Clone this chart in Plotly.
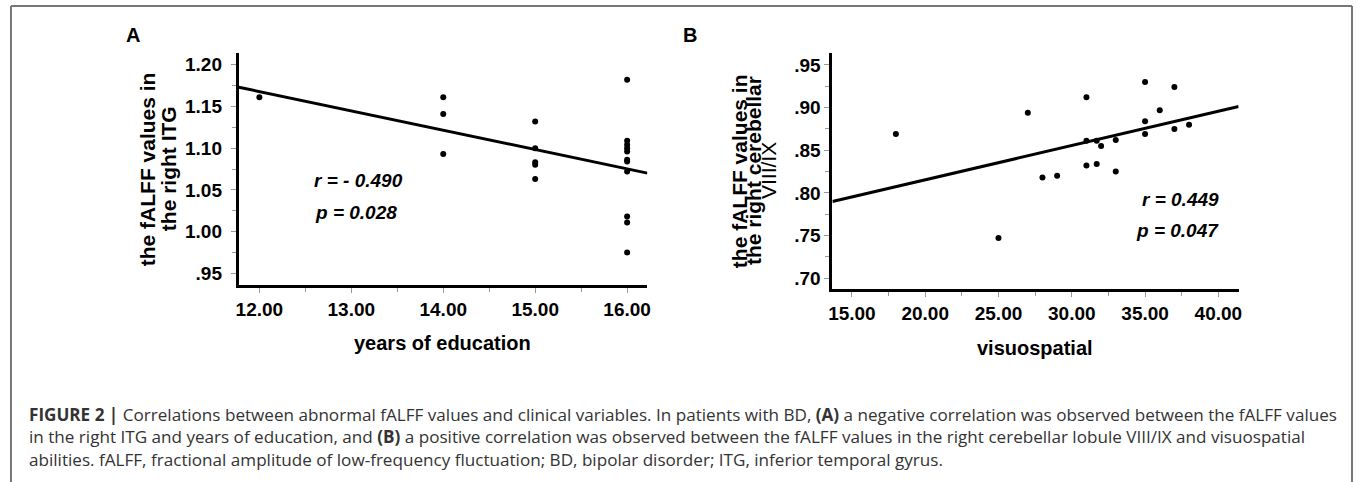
import numpy as np
import plotly.graph_objects as go

W, H = 1357, 482

# ---------------- data ----------------
# Panel A: years of education vs fALFF in right ITG
edu_years = [12, 14, 14, 14, 15, 15, 15, 15, 15,
             16, 16, 16, 16, 16, 16, 16, 16, 16, 16, 16]
itg_falff = [1.161, 1.161, 1.141, 1.093, 1.132, 1.100, 1.083, 1.080, 1.063,
             1.182, 1.109, 1.104, 1.100, 1.096, 1.086, 1.084, 1.072, 1.018, 1.011, 0.975]

# Panel B: visuospatial vs fALFF in right cerebellar VIII/IX
visuospatial = [18, 25, 27, 28, 29, 31, 31, 31, 31.7, 31.7,
                32, 33, 33, 35, 35, 35, 36, 37, 37, 38]
cereb_falff = [0.869, 0.747, 0.894, 0.818, 0.820, 0.912, 0.861, 0.832, 0.861, 0.834,
               0.855, 0.862, 0.825, 0.930, 0.884, 0.869, 0.897, 0.924, 0.875, 0.880]

# tick labels
a_xticks = [12, 13, 14, 15, 16]
a_xticktext = ["12.00", "13.00", "14.00", "15.00", "16.00"]
a_yticks = [0.95, 1.00, 1.05, 1.10, 1.15, 1.20]
a_yticktext = [".95", "1.00", "1.05", "1.10", "1.15", "1.20"]
b_xticks = [15, 20, 25, 30, 35, 40]
b_xticktext = ["15.00", "20.00", "25.00", "30.00", "35.00", "40.00"]
b_yticks = [0.70, 0.75, 0.80, 0.85, 0.90, 0.95]
b_yticktext = [".70", ".75", ".80", ".85", ".90", ".95"]

a_stats = ["r = - 0.490", "p = 0.028"]
b_stats = ["r = 0.449", "p = 0.047"]

caption_lines = [
    "<b>FIGURE 2 |</b> Correlations between abnormal fALFF values and clinical variables. In patients with BD, <b>(A)</b> a negative correlation was observed between the fALFF values",
    "in the right ITG and years of education, and <b>(B)</b> a positive correlation was observed between the fALFF values in the right cerebellar lobule VIII/IX and visuospatial",
    "abilities. fALFF, fractional amplitude of low-frequency fluctuation; BD, bipolar disorder; ITG, inferior temporal gyrus.",
]

# ---------------- layout geometry ----------------
A_XR = [11.776, 16.22]
A_YR = [0.936, 1.214]
B_XR = [13.67, 41.38]
B_YR = [0.687, 0.964]

A_XDOM = [236 / W, 646.7 / W]
A_YDOM = [1 - 285 / H, 1 - 53 / H]
B_XDOM = [832.7 / W, 1241 / W]
B_YDOM = [1 - 289.3 / H, 1 - 53 / H]

FONT = "Liberation Sans, Arial, sans-serif"
CAPFONT = "Open Sans, Liberation Sans, sans-serif"


def px(x):
    return x / W


def py(y):
    return 1 - y / H


fig = go.Figure()

# least-squares fit lines
ka, ba = np.polyfit(edu_years, itg_falff, 1)
kb, bb = np.polyfit(visuospatial, cereb_falff, 1)
ax_line = np.array(A_XR)
bx_line = np.array(B_XR)

fig.add_trace(go.Scatter(x=ax_line, y=ka * ax_line + ba, mode="lines",
                         line=dict(color="black", width=3), xaxis="x", yaxis="y",
                         showlegend=False, hoverinfo="skip"))
fig.add_trace(go.Scatter(x=edu_years, y=itg_falff, mode="markers",
                         marker=dict(color="black", size=6), xaxis="x", yaxis="y",
                         showlegend=False))
fig.add_trace(go.Scatter(x=bx_line, y=kb * bx_line + bb, mode="lines",
                         line=dict(color="black", width=3), xaxis="x2", yaxis="y2",
                         showlegend=False, hoverinfo="skip"))
fig.add_trace(go.Scatter(x=visuospatial, y=cereb_falff, mode="markers",
                         marker=dict(color="black", size=6), xaxis="x2", yaxis="y2",
                         showlegend=False))

tickfont = dict(family=FONT, size=19, color="black", weight="bold")
common = dict(showline=True, linewidth=3, linecolor="black", showgrid=False,
              zeroline=False, ticks="outside", ticklen=5, tickwidth=1,
              tickcolor="#999999", tickfont=tickfont, tickmode="array")

fig.update_layout(
    width=W, height=H,
    margin=dict(l=0, r=0, t=0, b=0),
    paper_bgcolor="white", plot_bgcolor="white",
    xaxis=dict(domain=A_XDOM, range=A_XR, anchor="y", tickvals=a_xticks,
               ticktext=a_xticktext,
               minor=dict(ticks="outside", ticklen=4, tickcolor="#999999", dtick=0.5, tick0=12),
               **common),
    yaxis=dict(domain=A_YDOM, range=A_YR, anchor="x", tickvals=a_yticks,
               ticktext=a_yticktext, ticklabelstandoff=5,
               minor=dict(ticks="outside", ticklen=4, tickcolor="#999999", dtick=0.025, tick0=0.95),
               **common),
    xaxis2=dict(domain=B_XDOM, range=B_XR, anchor="y2", tickvals=b_xticks,
                ticktext=b_xticktext,
                minor=dict(ticks="outside", ticklen=4, tickcolor="#999999", dtick=2.5, tick0=15),
                **common),
    yaxis2=dict(domain=B_YDOM, range=B_YR, anchor="x2", tickvals=b_yticks,
                ticktext=b_yticktext,
                minor=dict(ticks="outside", ticklen=4, tickcolor="#999999", dtick=0.025, tick0=0.70),
                **common),
)

ann = []


def add(text, x, y, size, xanchor="center", yanchor="middle", angle=0,
        weight="bold", style="normal", color="black", family=FONT):
    ann.append(dict(text=text, x=px(x), y=py(y), xref="paper", yref="paper",
                    xanchor=xanchor, yanchor=yanchor, textangle=angle,
                    showarrow=False,
                    font=dict(family=family, size=size, color=color,
                              weight=weight, style=style)))


# panel labels
add("A", 130, 35, 20)
add("B", 690, 35, 20)

# y titles
add("the fALFF values in", 144, 169, 21, angle=-90)
add("the right ITG", 165, 169, 21, angle=-90)
add("the fALFF values in", 739, 171, 21, angle=-90)
add("the right cerebellar", 753, 171, 21, angle=-90)
add("VIII/IX", 768, 171, 21, angle=-90, weight="normal")

# x titles
add("years of education", 441, 343, 20)
add("visuospatial", 1036, 348, 20)

# stats
add(a_stats[0], 310, 180, 19, xanchor="left", style="italic")
add(a_stats[1], 311, 212, 19, xanchor="left", style="italic")
add(b_stats[0], 1223, 199, 19, xanchor="right", style="italic")
add(b_stats[1], 1223, 230, 19, xanchor="right", style="italic")

# caption
for i, line in enumerate(caption_lines):
    add(line, 23, 414 + 22.5 * i, 17.1, xanchor="left", weight="normal",
        color="#333333", family=CAPFONT)

fig.update_layout(annotations=ann)

# frame
frame = dict(type="line", xref="paper", yref="paper",
             line=dict(color="#777777", width=2))
fig.update_layout(shapes=[
    dict(frame, x0=px(7), x1=px(1355), y0=py(6), y1=py(6)),
    dict(frame, x0=px(7), x1=px(7), y0=py(6), y1=-0.1),
    dict(frame, x0=px(1355), x1=px(1355), y0=py(6), y1=-0.1),
])

fig.write_html("out.html")
